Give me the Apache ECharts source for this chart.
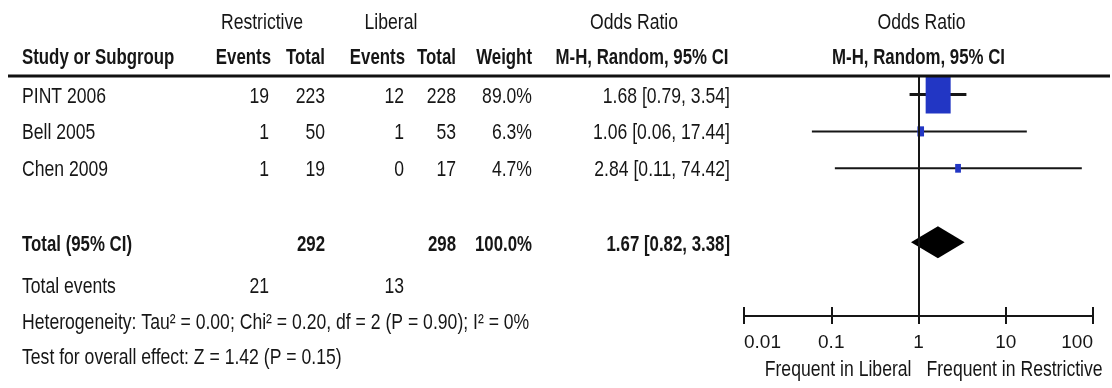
<!DOCTYPE html>
<html>
<head>
<meta charset="utf-8">
<script src="https://cdn.jsdelivr.net/npm/echarts@6/dist/echarts.min.js"></script>
<style>
  html, body { margin: 0; padding: 0; background: #ffffff; }
  #chart { width: 1112px; height: 388px; }
</style>
</head>
<body>
<div id="chart"></div>
<script>
// Forest plot: restrictive vs liberal strategy, odds ratios (M-H, random effects)
const studies = ['PINT 2006', 'Bell 2005', 'Chen 2009'];
const restrictiveEvents = [19, 1, 1];
const restrictiveTotal = [223, 50, 19];
const liberalEvents = [12, 1, 0];
const liberalTotal = [228, 53, 17];
const weights = [89.0, 6.3, 4.7];
const oddsRatio = [1.68, 1.06, 2.84];
const ciLower = [0.79, 0.06, 0.11];
const ciUpper = [3.54, 17.44, 74.42];

// pooled estimate [OR, lower, upper]
const pooledOR = [1.67, 0.82, 3.38];
const pooledTotals = [292, 298];        // restrictive, liberal
const pooledWeight = 100.0;
const totalEvents = [21, 13];           // restrictive, liberal
const heterogeneityText = 'Heterogeneity: Tau\u00B2 = 0.00; Chi\u00B2 = 0.20, df = 2 (P = 0.90); I\u00B2 = 0%';
const overallEffectText = 'Test for overall effect: Z = 1.42 (P = 0.15)';

const axisTicks = [0.01, 0.1, 1, 10, 100];
const tickLabels = ['0.01', '0.1', '1', '10', '100'];
const favoursLeft = 'Frequent in Liberal';
const favoursRight = 'Frequent in Restrictive';

// ---- styling ----
const INK = '#161616';
const BOX = '#2236c4';
const FONT = '"Liberation Sans", Arial, sans-serif';
const FS = 22;
const SX = 0.8;          // condensed look of the table text
const SX_BOLD = 0.765;

// detect a narrow face for the axis tick labels
function hasFont(name) {
  const c = document.createElement('canvas').getContext('2d');
  const s = 'abcdefghijklmnopqrstuvwxyz0123456789';
  c.font = '40px monospace';
  const a = c.measureText(s).width;
  c.font = '40px "' + name + '", monospace';
  return Math.abs(c.measureText(s).width - a) > 0.5;
}
const narrow = hasFont('Liberation Sans Narrow');
const TICK_FONT = narrow ? '"Liberation Sans Narrow", "Liberation Sans", Arial' : FONT;
const TICK_FS = narrow ? 22 : 19;

const nRows = studies.length;
const totalRow = nRows + 1.5;
const rowMax = nRows + 3.5;
const maxW = Math.max.apply(null, weights);
const fmt = v => v.toFixed(2);

const PLOT = { left: 744, top: 76, width: 349, height: 240 };

function logAxis(gridIndex, inside, len, labels) {
  return {
    type: 'log', logBase: 10, gridIndex: gridIndex,
    min: axisTicks[0], max: axisTicks[axisTicks.length - 1],
    position: 'bottom',
    axisLine: { show: true, onZero: false, lineStyle: { color: INK, width: 2 } },
    axisTick: { show: true, inside: inside, length: len, lineStyle: { color: INK, width: 2 } },
    axisLabel: labels ? {
      show: true, margin: 17, color: INK, fontSize: TICK_FS, fontFamily: TICK_FONT,
      alignMinLabel: 'left', alignMaxLabel: 'right',
      formatter: function (v) {
        let best = 0;
        axisTicks.forEach((t, i) => {
          if (Math.abs(Math.log10(t) - Math.log10(v)) < Math.abs(Math.log10(axisTicks[best]) - Math.log10(v))) best = i;
        });
        return tickLabels[best];
      }
    } : { show: false },
    splitLine: { show: false }
  };
}

const chart = echarts.init(document.getElementById('chart'), null, { renderer: 'canvas' });

const option = {
  backgroundColor: '#ffffff',
  animation: false,
  grid: [
    Object.assign({ containLabel: false, outerBoundsMode: 'none' }, PLOT),
    // twin grid carrying the upward half of the crossing ticks
    Object.assign({ containLabel: false, outerBoundsMode: 'none' }, PLOT)
  ],
  xAxis: [
    logAxis(0, false, 8, true),
    logAxis(1, true, 9, false)
  ],
  yAxis: [
    { type: 'value', gridIndex: 0, min: 0, max: rowMax, inverse: true, show: false },
    { type: 'value', gridIndex: 1, min: 0, max: rowMax, inverse: true, show: false }
  ],
  series: [
    {
      // individual studies: CI whisker + weighted box
      type: 'custom',
      xAxisIndex: 0, yAxisIndex: 0,
      encode: { x: [0, 1, 2], y: 3 },
      data: studies.map((s, i) => [ciLower[i], ciUpper[i], oddsRatio[i], i + 0.5, weights[i]]),
      renderItem: function (params, api) {
        const y = api.value(3);
        const lo = api.coord([api.value(0), y]);
        const hi = api.coord([api.value(1), y]);
        const mid = api.coord([api.value(2), y]);
        const k = Math.sqrt(api.value(4) / maxW);
        const bw = Math.max(5, 25 * k);
        const bh = Math.max(8, 38 * k);
        return {
          type: 'group',
          children: [
            { type: 'line', shape: { x1: lo[0], y1: lo[1], x2: hi[0], y2: hi[1] },
              style: { stroke: INK, lineWidth: k > 0.5 ? 3 : 2 } },
            { type: 'rect', shape: { x: mid[0] - bw / 2, y: mid[1] - bh / 2, width: bw, height: bh },
              style: { fill: BOX } }
          ]
        };
      },
      z: 3
    },
    {
      // pooled estimate diamond + line of no effect
      type: 'custom',
      xAxisIndex: 0, yAxisIndex: 0,
      encode: { x: [0, 1, 2], y: 3 },
      data: [[pooledOR[1], pooledOR[2], pooledOR[0], totalRow]],
      renderItem: function (params, api) {
        const y = api.value(3);
        const lo = api.coord([api.value(0), y]);
        const hi = api.coord([api.value(1), y]);
        const mid = api.coord([api.value(2), y]);
        const h = 16;
        return {
          type: 'polygon',
          shape: { points: [[lo[0], lo[1]], [mid[0], mid[1] - h], [hi[0], hi[1]], [mid[0], mid[1] + h]] },
          style: { fill: '#000000' }
        };
      },
      markLine: {
        silent: true, symbol: 'none', label: { show: false },
        lineStyle: { color: INK, width: 2, type: 'solid' },
        data: [{ xAxis: 1 }]
      },
      z: 2
    }
  ]
};
chart.setOption(option);

// ---- table text ----
function txt(str, x, y, align, bold) {
  return {
    type: 'text', x: x, y: y, scaleX: bold ? SX_BOLD : SX, silent: true, z: 10,
    style: {
      text: str, x: 0, y: 0, align: align, verticalAlign: 'middle',
      fontSize: FS, fontFamily: FONT, fontWeight: bold ? 'bold' : 'normal', fill: INK
    }
  };
}

const rowY = i => chart.convertToPixel({ yAxisIndex: 0 }, i);
const nullX = chart.convertToPixel({ xAxisIndex: 0 }, 1);

const COL = { study: 22, rEv: 269, rTot: 325, lEv: 404, lTot: 456, wt: 532, or: 730 };
const g = [];

// header
g.push({ type: 'line', silent: true, shape: { x1: 8, y1: 76, x2: 1110, y2: 76 }, style: { stroke: '#111111', lineWidth: 3 }, z: 9 });
g.push(txt('Restrictive', 262, 23, 'center'));
g.push(txt('Liberal', 391, 23, 'center'));
g.push(txt('Odds Ratio', 634, 23, 'center'));
g.push(txt('Odds Ratio', nullX + 3, 23, 'center'));
g.push(txt('Study or Subgroup', COL.study, 58, 'left', true));
g.push(txt('Events', COL.rEv + 2, 58, 'right', true));
g.push(txt('Total', COL.rTot, 58, 'right', true));
g.push(txt('Events', COL.lEv + 1, 58, 'right', true));
g.push(txt('Total', COL.lTot, 58, 'right', true));
g.push(txt('Weight', COL.wt, 58, 'right', true));
g.push(txt('M-H, Random, 95% CI', 642, 58, 'center', true));
g.push(txt('M-H, Random, 95% CI', nullX, 58, 'center', true));

// study rows
studies.forEach((s, i) => {
  const y = rowY(i + 0.5) + 2;
  g.push(txt(s, COL.study, y, 'left'));
  g.push(txt(String(restrictiveEvents[i]), COL.rEv, y, 'right'));
  g.push(txt(String(restrictiveTotal[i]), COL.rTot, y, 'right'));
  g.push(txt(String(liberalEvents[i]), COL.lEv, y, 'right'));
  g.push(txt(String(liberalTotal[i]), COL.lTot, y, 'right'));
  g.push(txt(weights[i].toFixed(1) + '%', COL.wt, y, 'right'));
  g.push(txt(fmt(oddsRatio[i]) + ' [' + fmt(ciLower[i]) + ', ' + fmt(ciUpper[i]) + ']', COL.or, y, 'right'));
});

// pooled row
const ty = rowY(totalRow) + 3;
g.push(txt('Total (95% CI)', COL.study, ty, 'left', true));
g.push(txt(String(pooledTotals[0]), COL.rTot, ty, 'right', true));
g.push(txt(String(pooledTotals[1]), COL.lTot, ty, 'right', true));
g.push(txt(pooledWeight.toFixed(1) + '%', COL.wt, ty, 'right', true));
g.push(txt(fmt(pooledOR[0]) + ' [' + fmt(pooledOR[1]) + ', ' + fmt(pooledOR[2]) + ']', COL.or, ty, 'right', true));

// footer
g.push(txt('Total events', COL.study, 287, 'left'));
g.push(txt(String(totalEvents[0]), COL.rEv, 287, 'right'));
g.push(txt(String(totalEvents[1]), COL.lEv, 287, 'right'));
g.push(txt(heterogeneityText, COL.study, 323, 'left'));
g.push(txt(overallEffectText, COL.study, 358, 'left'));

// favours labels under the axis
g.push(txt(favoursLeft, nullX - 7, 370, 'right'));
g.push(txt(favoursRight, nullX + 8, 370, 'left'));

chart.setOption({ graphic: g });
</script>
</body>
</html>
